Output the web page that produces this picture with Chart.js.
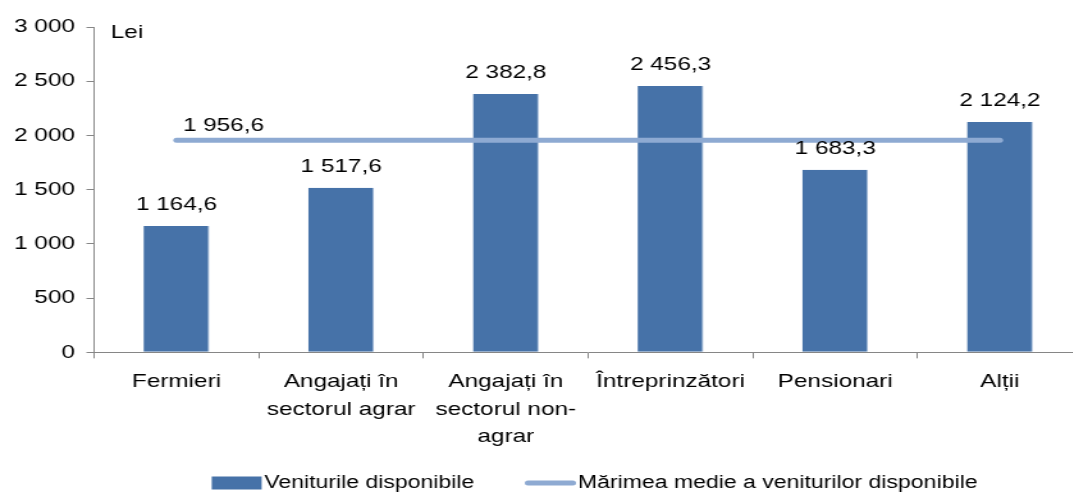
<!DOCTYPE html>
<html>
<head>
<meta charset="utf-8">
<script src="https://cdn.jsdelivr.net/npm/chart.js@4/dist/chart.umd.min.js"></script>
<style>
  html, body { margin: 0; padding: 0; background: #fff; overflow: hidden; }
  /* the reference is stretched sideways, so draw narrow and stretch */
  #wrap { width: 848px; height: 495px; transform: scaleX(1.28); transform-origin: 0 0; }
</style>
</head>
<body>
<div id="wrap"><canvas id="chart"></canvas></div>
<script>
const categories = ['Fermieri', ['Angajați în', 'sectorul agrar'], ['Angajați în', 'sectorul non-', 'agrar'], 'Întreprinzători', 'Pensionari', 'Alții'];
const venituri = [1164.6, 1517.6, 2382.8, 2456.3, 1683.3, 2124.2];
const medie = [1956.6, 1956.6, 1956.6, 1956.6, 1956.6, 1956.6];
const yTicks = [0, 500, 1000, 1500, 2000, 2500, 3000];
const seriesNames = ['Veniturile disponibile', 'Mărimea medie a veniturilor disponibile'];
const unit = 'Lei';

const FONT = '"Liberation Sans", Arial, sans-serif';
const barColor = '#4672a8';
const lineColor = '#8eaad2';
const axisColor = '#868686';

const fmt = (v, dec) => {
    const [i, d] = v.toFixed(dec).split('.');
    return i.replace(/\B(?=(\d{3})+(?!\d))/g, ' ') + (d ? ',' + d : '');
};

const extras = {
    id: 'extras',
    afterDatasetsDraw(chart) {
        const ctx = chart.ctx;
        const area = chart.chartArea;
        ctx.save();
        ctx.font = '19px ' + FONT;
        ctx.fillStyle = '#000';

        // bar values
        ctx.textAlign = 'center';
        ctx.textBaseline = 'alphabetic';
        chart.getDatasetMeta(1).data.forEach((bar, i) => {
            ctx.fillText(fmt(venituri[i], 1), bar.x, bar.y - 16);
        });

        // average label, only on first point
        const p = chart.getDatasetMeta(0).data[0];
        ctx.textAlign = 'left';
        ctx.fillText(fmt(medie[0], 1), p.x + 5, p.y - 9);

        // unit
        const yTop = chart.scales.y.getPixelForValue(yTicks[yTicks.length - 1]);
        ctx.textBaseline = 'middle';
        ctx.fillText(unit, area.left + 13, yTop + 6);

        // legend
        ctx.font = '18px ' + FONT;
        const boxW = 39, gapText = 2, gapItems = 40;
        const w0 = ctx.measureText(seriesNames[0]).width;
        const w1 = ctx.measureText(seriesNames[1]).width;
        const total = boxW + gapText + w0 + gapItems + boxW + gapText + w1;
        let x = (area.left + area.right) / 2 - total / 2 + 5;
        const ly = 483;
        ctx.fillStyle = barColor;
        ctx.fillRect(x, ly - 6.5, boxW, 13);
        x += boxW + gapText;
        ctx.fillStyle = '#000';
        ctx.fillText(seriesNames[0], x, ly);
        x += w0 + gapItems;
        ctx.strokeStyle = lineColor;
        ctx.lineWidth = 5;
        ctx.lineCap = 'round';
        ctx.beginPath();
        ctx.moveTo(x + 2, ly);
        ctx.lineTo(x + boxW - 2, ly);
        ctx.stroke();
        x += boxW + gapText;
        ctx.fillText(seriesNames[1], x, ly);
        ctx.restore();
    }
};

const ctx = document.getElementById('chart').getContext('2d');
new Chart(ctx, {
    type: 'bar',
    data: {
        labels: categories,
        datasets: [{
            type: 'line',
            label: seriesNames[1],
            data: medie,
            borderColor: lineColor,
            borderWidth: 5,
            borderCapStyle: 'round',
            pointRadius: 0,
            fill: false,
            order: 0
        }, {
            type: 'bar',
            label: seriesNames[0],
            data: venituri,
            backgroundColor: barColor,
            borderColor: '#a9bfdc',
            borderWidth: { right: 1 },
            barPercentage: 0.4,
            categoryPercentage: 1,
            order: 1
        }]
    },
    options: {
        responsive: true,
        maintainAspectRatio: false,
        animation: false,
        layout: { padding: { left: 2, top: 27, right: 0, bottom: 34 } },
        plugins: {
            legend: { display: false },
            tooltip: { enabled: false }
        },
        scales: {
            x: {
                grid: { display: true, drawOnChartArea: false, offset: true, tickLength: 6, color: axisColor },
                border: { color: axisColor },
                ticks: {
                    color: '#000',
                    font: { family: FONT, size: 19, lineHeight: 1.45 },
                    maxRotation: 0,
                    autoSkip: false,
                    padding: 10
                }
            },
            y: {
                min: 0,
                max: 3000,
                afterBuildTicks: (scale) => { scale.ticks = yTicks.map(v => ({ value: v })); },
                grid: { drawOnChartArea: false, tickLength: 6, color: axisColor },
                border: { color: axisColor },
                ticks: {
                    color: '#000',
                    font: { family: FONT, size: 19 },
                    padding: 9,
                    callback: (v) => fmt(v, 0)
                }
            }
        }
    },
    plugins: [extras]
});
</script>
</body>
</html>
